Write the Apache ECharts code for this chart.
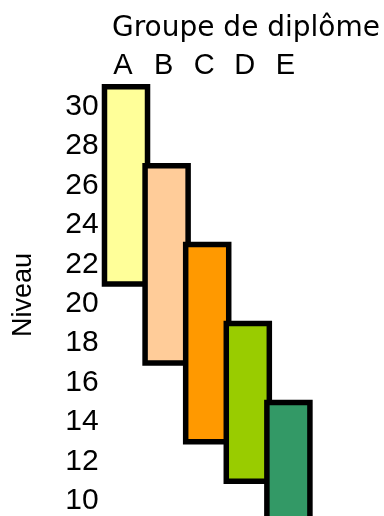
<!DOCTYPE html>
<html>
<head>
<meta charset="utf-8">
<script src="https://cdn.jsdelivr.net/npm/echarts@6/dist/echarts.min.js"></script>
<style>html,body{margin:0;padding:0;background:#fff;overflow:hidden;width:384px;height:516px}#c{width:384px;height:541px}</style>
</head>
<body>
<div id="c"></div>
<script>
const categories = ['A', 'B', 'C', 'D', 'E'];
const lowValues = [21, 17, 13, 11, 8];
const highValues = [31, 27, 23, 19, 15];
const barColors = ['#FFFF99', '#FFCC99', '#FF9900', '#99CC00', '#339966'];
const titleText = 'Groupe de diplôme';
const yTitle = 'Niveau';

const chart = echarts.init(document.getElementById('c'), null, {renderer: 'canvas'});
const data = categories.map((c, i) => [i, lowValues[i], highValues[i]]);
chart.setOption({
  animation: false,
  backgroundColor: '#fff',
  grid: {left: 105.7, width: 203, top: 67, height: 473.5},
  xAxis: {
    type: 'category', data: categories, position: 'top',
    axisLine: {show: false}, axisTick: {show: false}, splitLine: {show: false},
    axisLabel: {color: '#000', fontFamily: 'Liberation Sans', fontSize: 29, lineHeight: 29, margin: -13, padding: [0, 6, 0, 0]}
  },
  yAxis: {
    type: 'value', min: 8, max: 32, interval: 2,
    axisLine: {show: false}, axisTick: {show: false}, splitLine: {show: false},
    axisLabel: {color: '#000', fontFamily: 'Liberation Sans', fontSize: 30, margin: 7, showMinLabel: false, showMaxLabel: false}
  },
  graphic: [
    {type: 'text', x: 246, y: 29, style: {text: titleText, fill: '#000', font: '28px "DejaVu Sans"', textAlign: 'center', textVerticalAlign: 'middle'}},
    {type: 'text', x: 24, y: 295, rotation: Math.PI / 2, style: {text: yTitle, fill: '#000', font: '27px "Liberation Sans"', textAlign: 'center', textVerticalAlign: 'middle'}}
  ],
  series: [{
    type: 'custom', clip: false,
    renderItem: function (params, api) {
      const i = api.value(0);
      const lo = api.coord([i, api.value(1)]);
      const hi = api.coord([i, api.value(2)]);
      const w = api.size([1, 0])[0] * 1.06;
      return {
        type: 'rect',
        shape: {x: lo[0] - w / 2, y: hi[1], width: w, height: lo[1] - hi[1]},
        style: {fill: barColors[params.dataIndex], stroke: '#000', lineWidth: 5.5}
      };
    },
    encode: {x: 0, y: [1, 2]},
    data: data
  }]
});
</script>
</body>
</html>
